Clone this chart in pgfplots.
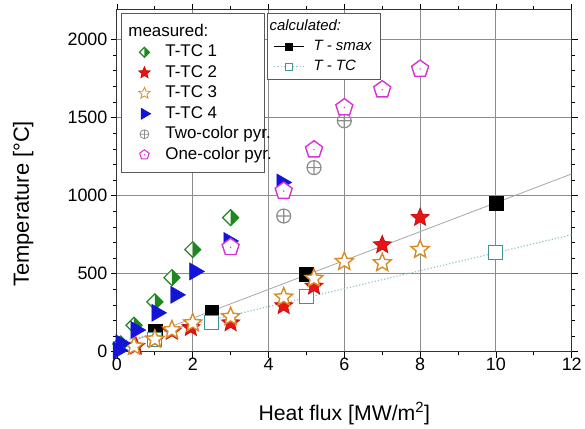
\documentclass[border=0pt]{standalone}
\usepackage{fontspec}
\setmainfont{Liberation Sans}
\usepackage{pgfplots}
\pgfplotsset{compat=1.18}
\usetikzlibrary{plotmarks}

\definecolor{cgreen}{RGB}{30,135,30}
\definecolor{cred}{RGB}{235,20,20}
\definecolor{corange}{RGB}{215,140,40}
\definecolor{cblue}{RGB}{20,20,215}
\definecolor{cgray}{RGB}{140,140,140}
\definecolor{cmag}{RGB}{215,50,215}
\definecolor{cteal}{RGB}{60,150,150}

% diamond, left half white, right half green
\pgfdeclareplotmark{hdiamond}{%
  \pgfsetfillcolor{white}%
  \pgfpathmoveto{\pgfqpoint{0pt}{\pgfplotmarksize}}%
  \pgfpathlineto{\pgfqpoint{-\pgfplotmarksize}{0pt}}%
  \pgfpathlineto{\pgfqpoint{0pt}{-\pgfplotmarksize}}%
  \pgfpathclose
  \pgfusepathqfill
  \pgfsetfillcolor{cgreen}%
  \pgfpathmoveto{\pgfqpoint{0pt}{\pgfplotmarksize}}%
  \pgfpathlineto{\pgfqpoint{\pgfplotmarksize}{0pt}}%
  \pgfpathlineto{\pgfqpoint{0pt}{-\pgfplotmarksize}}%
  \pgfpathclose
  \pgfusepathqfill
  \pgfpathmoveto{\pgfqpoint{0pt}{\pgfplotmarksize}}%
  \pgfpathlineto{\pgfqpoint{\pgfplotmarksize}{0pt}}%
  \pgfpathlineto{\pgfqpoint{0pt}{-\pgfplotmarksize}}%
  \pgfpathlineto{\pgfqpoint{-\pgfplotmarksize}{0pt}}%
  \pgfpathclose
  \pgfusepathqstroke
}
% five-pointed star
\pgfdeclareplotmark{pstar}{%
  \pgfpathmoveto{\pgfpointpolar{90}{\pgfplotmarksize}}%
  \pgfpathlineto{\pgfpointpolar{126}{0.45\pgfplotmarksize}}%
  \pgfpathlineto{\pgfpointpolar{162}{\pgfplotmarksize}}%
  \pgfpathlineto{\pgfpointpolar{198}{0.45\pgfplotmarksize}}%
  \pgfpathlineto{\pgfpointpolar{234}{\pgfplotmarksize}}%
  \pgfpathlineto{\pgfpointpolar{270}{0.45\pgfplotmarksize}}%
  \pgfpathlineto{\pgfpointpolar{306}{\pgfplotmarksize}}%
  \pgfpathlineto{\pgfpointpolar{342}{0.45\pgfplotmarksize}}%
  \pgfpathlineto{\pgfpointpolar{18}{\pgfplotmarksize}}%
  \pgfpathlineto{\pgfpointpolar{54}{0.45\pgfplotmarksize}}%
  \pgfpathclose
  \pgfusepathqfillstroke
}
% white pentagon with a dot in the middle
\pgfdeclareplotmark{pentdot}{%
  \pgfsetfillcolor{white}%
  \pgfuseplotmark{pentagon*}%
  \pgfsetfillcolor{cmag}%
  \pgfpathcircle{\pgfpointorigin}{0.8pt}%
  \pgfusepathqfill
}

\pgfplotsset{
  base/.style={
    width=455bp, height=342bp, scale only axis,
    xmin=0, xmax=12, ymin=0, ymax=2190,
    legend cell align=left,
  },
}

\begin{document}
\begin{tikzpicture}
% frame, grid and calculated curves
\begin{axis}[base, name=a,
    xtick={0,2,...,12}, ytick={0,500,...,2000},
    minor x tick num=1, minor y tick num=4,
    tick align=outside,
    major tick length=6bp, minor tick length=3.5bp,
    every tick/.style={black, line width=0.8bp},
    axis line style={black!80, line width=1bp},
    grid=major, grid style={black!45, line width=0.9bp},
    tick label style={font=\fontsize{18}{21}\selectfont},
    xticklabel style={yshift=3bp},
    /pgf/number format/assume math mode=true,
    /pgf/number format/1000 sep={},
    xlabel={Heat flux [MW/m\textsuperscript{2}]},
    ylabel={Temperature [°C]},
    every axis x label/.style={at={(axis description cs:0.5,-0.181)}, anchor=center,
      font=\fontsize{21.3}{25}\selectfont},
    every axis y label/.style={at={(axis description cs:-0.206,0.433)}, rotate=90, anchor=center,
      font=\fontsize{22}{26}\selectfont},
  ]
  \addplot[black!35, line width=0.8bp] coordinates {(0,30) (12,1140)};
  \addplot[cteal!55, dotted, line width=1.2bp] coordinates {(0,60) (12,750)};
  \addplot[only marks, mark=square*, mark size=7, draw=black, fill=black]
    coordinates {(1,130) (2.5,255) (5,495) (10,955)};
  \addplot[only marks, mark=square*, mark size=7, draw=cteal, fill=white, line width=1bp]
    coordinates {(1,80) (2.5,190) (5,355) (10,635)};
\end{axis}
% measured values
\begin{axis}[base, hide axis,
    legend image code/.code={\draw[mark repeat=2,mark phase=2,#1] plot coordinates {(0bp,0bp) (17bp,0bp) (35bp,0bp)};},
    legend style={at={(rel axis cs:0.0088,0.991)}, anchor=north west,
      draw=black!65, line width=1bp, fill=white,
      font=\fontsize{17}{20}\selectfont,
      inner xsep=6bp, inner ysep=8bp, row sep=0bp, column sep=12.5bp,
      nodes={text height=12.5bp, text depth=3.5bp, inner ysep=2.25bp, inner xsep=2.5bp}},
  ]
  \addlegendimage{empty legend}
  \addlegendentry{\hspace{-37bp}measured:}
  \addplot[only marks, mark=hdiamond, mark size=8, draw=cgreen, line width=1.2bp,
    legend image post style={mark size=5}]
    coordinates {(0.1,50) (0.45,170) (1,320) (1.45,475) (2,655) (3,860)};
  \addlegendentry{T-TC 1}
  \addplot[only marks, mark=pstar, mark size=9.5, draw=cred!85!black, fill=cred, line width=0.8bp,
    legend image post style={mark size=6}]
    coordinates {(0.5,35) (1,80) (1.45,130) (1.95,155) (3,185) (4.4,295) (5.2,420) (7,685) (8,860)};
  \addlegendentry{T-TC 2}
  \addplot[only marks, mark=pstar, mark size=9.5, draw=corange, fill=white, line width=1.4bp,
    legend image post style={mark size=6, line width=0.8bp}]
    coordinates {(0.45,35) (1,80) (1.45,140) (2,185) (3,225) (4.4,350) (5.2,470) (6,578) (7,570) (8,655)};
  \addlegendentry{T-TC 3}
  \addplot[only marks, mark=triangle*, mark size=10, mark options={rotate=-90}, draw=cblue, fill=cblue,
    legend image post style={mark size=6}]
    coordinates {(0.03,10) (0.1,55) (0.5,140) (1.05,250) (1.55,365) (2.05,515) (2.95,710) (4.35,1085)};
  \addlegendentry{T-TC 4}
  \addplot[only marks, mark=oplus, mark size=7, draw=cgray, line width=1.2bp,
    legend image post style={mark size=4.5, line width=0.8bp}]
    coordinates {(4.4,870) (5.2,1180) (6,1480)};
  \addlegendentry{\makebox[91bp][l]{Two-color pyr.}}
  \addplot[only marks, mark=pentdot, mark size=9, draw=cmag, line width=1.4bp,
    legend image post style={mark size=5, line width=1bp}]
    coordinates {(3,670) (4.4,1030) (5.2,1295) (6,1565) (7,1680) (8,1812)};
  \addlegendentry{\makebox[91bp][l]{One-color pyr.}}
\end{axis}
% legend of the calculated curves, laid over the measured one
\begin{axis}[base, hide axis,
    legend image code/.code={\draw[mark repeat=2,mark phase=2,#1] plot coordinates {(0bp,0bp) (15bp,0bp) (30bp,0bp)};},
    legend style={at={(rel axis cs:0.33,0.991)}, anchor=north west,
      draw=black!65, line width=1bp, fill=white,
      font=\fontsize{15}{18}\selectfont\itshape,
      inner xsep=6bp, inner ysep=3bp, row sep=0bp, column sep=6bp,
      nodes={text height=11bp, text depth=3bp, inner ysep=3bp, inner xsep=2.9bp}},
  ]
  \addlegendimage{empty legend}
  \addlegendentry{\hspace{-44bp}calculated:}
  \addlegendimage{black, line width=0.8bp, mark=square*, mark options={solid, black, mark size=3.5}}
  \addlegendentry{T - smax}
  \addlegendimage{cteal!55, dotted, line width=1.2bp, mark=square*, mark options={solid, draw=cteal, fill=white, mark size=3.5, line width=0.8bp}}
  \addlegendentry{T - TC}
\end{axis}
\path (a.south west) ++(-117bp,-76bp) rectangle ++(585bp,428bp);
\end{tikzpicture}
\end{document}
